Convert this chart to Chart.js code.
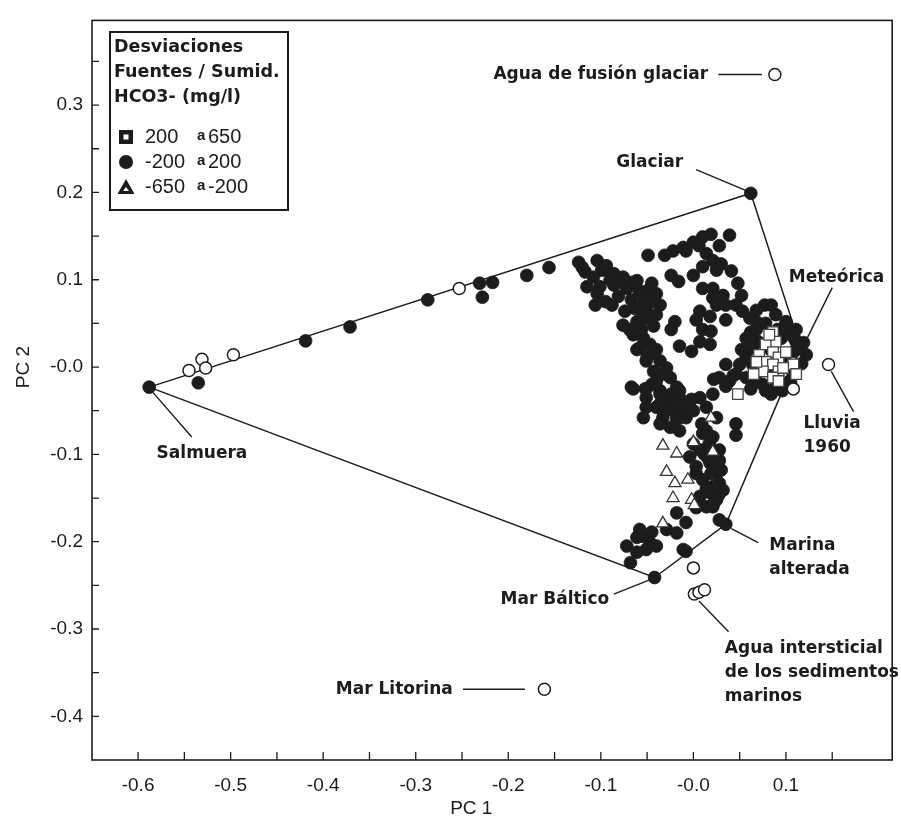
<!DOCTYPE html>
<html>
<head>
<meta charset="utf-8">
<script src="https://cdn.jsdelivr.net/npm/chart.js@4.4.1/dist/chart.umd.min.js"></script>
<style>
  html, body { margin: 0; padding: 0; background: #fff; }
  #wrap { width: 901px; height: 820px; position: relative; }
</style>
</head>
<body>
<div id="wrap"><canvas id="pca"></canvas></div>
<script>
// End members (filled, joined by the mixing polygon)
const endMemberNames = ['Salmuera', 'Glaciar', 'Meteórica', 'Marina alterada', 'Mar Báltico'];
const endMemberPC1 = [-0.588, 0.062, 0.116, 0.035, -0.042];
const endMemberPC2 = [-0.023, 0.199, 0.022, -0.180, -0.241];
const polygonOrder = [0, 1, 2, 3, 4, 0];

// Reference waters (open circles)
const refWaterNames = ['Agua de fusión glaciar', 'Lluvia 1960', 'Mar Litorina'];
const refWaterPC1 = [0.088, 0.146, -0.161];
const refWaterPC2 = [0.335, 0.003, -0.369];
const porewaterPC1 = [0.000, 0.001, 0.006, 0.012];
const porewaterPC2 = [-0.230, -0.260, -0.258, -0.255];

// Samples -200 a 200 lying on the Salmuera - Glaciar line
const alignedPC1 = [-0.535, -0.419, -0.371, -0.287, -0.231, -0.217, -0.228, -0.180, -0.156];
const alignedPC2 = [-0.018, 0.030, 0.046, 0.077, 0.096, 0.097, 0.080, 0.105, 0.114];

// Open samples along that line and next to Meteórica
const openLinePC1 = [-0.545, -0.531, -0.527, -0.497, -0.253, 0.108];
const openLinePC2 = [-0.004, 0.009, -0.001, 0.014, 0.090, -0.025];

// Main cloud, -200 a 200 (PC1, PC2)
const upperBand = [
  [-0.124,0.120],[-0.104,0.122],[-0.094,0.116],[-0.117,0.109],[-0.108,0.103],[-0.086,0.107],[-0.076,0.103],
  [-0.115,0.092],[-0.101,0.092],[-0.086,0.094],[-0.072,0.090],[-0.059,0.088],[-0.049,0.088],[-0.040,0.084],
  [-0.106,0.071],[-0.095,0.075],[-0.081,0.081],[-0.067,0.077],[-0.054,0.077],[-0.043,0.075],[-0.074,0.064],
  [-0.063,0.067],[-0.051,0.065],[-0.036,0.071],[-0.076,0.048],[-0.061,0.052],[-0.051,0.056],[-0.043,0.047],
  [-0.065,0.037],[-0.054,0.033],[-0.047,0.026],[-0.058,0.022],[-0.043,0.016],[-0.051,0.007],[-0.036,0.007],
  [-0.043,-0.005],[-0.029,-0.001],[-0.040,-0.016],[-0.025,-0.012],[-0.036,-0.027],[-0.018,-0.023],[-0.051,-0.035],
  [-0.029,-0.039],[-0.015,-0.035],[-0.040,-0.046],[-0.022,-0.050],[-0.011,-0.046],[-0.054,-0.058],[-0.033,-0.058],
  [-0.008,-0.058],[-0.067,-0.023],[-0.052,-0.025],[-0.090,0.100],[-0.066,0.097],[-0.047,0.058],
  [-0.120,0.114],[-0.099,0.111],[-0.083,0.096],[-0.061,0.099],[-0.045,0.096],[-0.104,0.084],[-0.088,0.071],
  [-0.056,0.065],[-0.040,0.060],[-0.069,0.043],[-0.056,0.043],[-0.061,0.020],[-0.050,0.012],[-0.040,0.020],
  [-0.034,-0.008],[-0.045,-0.020],[-0.024,-0.031],[-0.034,-0.048],[-0.018,-0.059],[-0.002,-0.037]
];
const upperArm = [
  [-0.049,0.128],[-0.031,0.128],[-0.022,0.133],[-0.011,0.137],[0.000,0.143],[0.010,0.149],[0.019,0.152],
  [0.039,0.151],[0.028,0.139],[0.014,0.130],[0.021,0.122],[0.010,0.115],[0.025,0.111],[0.000,0.105],
  [-0.024,0.105],[-0.016,0.098],[0.010,0.090],[0.021,0.090],[0.021,0.079],[0.032,0.082],[0.048,0.096],
  [0.035,0.071],[0.046,0.071],[0.053,0.064],[0.061,0.056],[0.068,0.052],[0.077,0.071],[0.089,0.060],
  [0.100,0.052],[0.104,0.041],[-0.008,0.133],[0.006,0.139],[0.030,0.118],[0.041,0.110],[0.052,0.082],
  [0.068,0.065],[0.084,0.071],[0.025,0.071],[0.035,0.054]
];
const centralColumn = [
  [0.007,0.064],[0.003,0.054],[0.018,0.058],[0.010,0.043],[0.019,0.041],[0.007,0.029],[0.018,0.026],
  [-0.020,0.052],[-0.024,0.043],[-0.015,0.024],[-0.002,0.018]
];
const meteoricCluster = [
  [0.057,0.033],[0.064,0.022],[0.057,0.011],[0.050,0.003],[0.064,0.003],[0.071,-0.005],[0.057,-0.012],
  [0.028,-0.012],[0.043,-0.010],[0.035,-0.022],[0.075,-0.020],[0.089,-0.023],[0.100,-0.020],[0.107,-0.005],
  [0.109,0.033],[0.109,0.018],[0.096,-0.027],[0.078,-0.027],[0.122,0.014],[0.111,0.029],[0.104,-0.016],
  [0.022,-0.014],[0.039,-0.016],[0.082,0.021],[0.070,0.029],[0.095,0.033],[0.085,-0.005],[0.100,0.005],
  [0.068,-0.017],[0.117,0.004],[0.062,0.040],[0.091,0.043],[0.068,0.043],[0.078,0.050],[0.111,0.043],
  [0.119,0.028],[0.052,0.020],[0.062,-0.025],[0.084,-0.031],[0.105,-0.018],[0.046,-0.008],[0.035,0.003]
];
const lowerColumn = [
  [-0.065,-0.025],[-0.051,-0.025],[-0.036,-0.031],[-0.015,-0.027],[0.007,-0.035],[0.021,-0.031],[-0.051,-0.046],
  [-0.036,-0.042],[-0.022,-0.042],[-0.015,-0.058],[0.000,-0.050],[0.014,-0.046],[0.025,-0.058],[-0.036,-0.065],
  [-0.025,-0.069],[-0.015,-0.073],[0.010,-0.076],[0.021,-0.080],[0.028,-0.095],[0.007,-0.095],[0.018,-0.110],
  [0.003,-0.114],[0.025,-0.122],[0.010,-0.129],[0.028,-0.133],[0.018,-0.144],[0.007,-0.148],[0.025,-0.152],
  [0.021,-0.160],[-0.018,-0.167],[-0.029,-0.186],[-0.054,-0.194],[-0.047,-0.201],[-0.040,-0.205],[-0.072,-0.205],
  [-0.068,-0.224],[-0.008,-0.211],[0.028,-0.175],[0.014,-0.073],[0.000,-0.088],[-0.004,-0.103],[0.021,-0.137],
  [0.014,-0.160],[-0.058,-0.186],[-0.051,-0.209],[0.046,-0.065],[0.046,-0.078],[0.017,-0.088],[0.028,-0.107],
  [0.032,-0.141],[0.022,-0.156],[-0.011,-0.209],[0.012,-0.100],[0.030,-0.118],
  [0.009,-0.065],[0.016,-0.105],[0.003,-0.122],[0.019,-0.122],[0.014,-0.139],[0.027,-0.147],[0.003,-0.161],
  [-0.008,-0.178],[-0.018,-0.190],[-0.061,-0.195],[-0.045,-0.189],[-0.061,-0.212]
];

// 200 a 650 (squares)
const squareSamples = [
  [0.086,0.040],[0.089,0.029],[0.078,0.026],[0.071,0.014],[0.086,0.017],[0.092,0.011],[0.078,0.006],
  [0.086,0.003],[0.092,-0.005],[0.075,-0.005],[0.086,-0.012],[0.092,-0.016],[0.065,-0.008],[0.048,-0.031],
  [0.100,0.017],[0.108,0.003],[0.082,0.037],[0.097,-0.001],[0.111,-0.008],[0.068,0.006]
];
// -650 a -200 (triangles)
const triangleSamples = [
  [-0.033,-0.090],[-0.018,-0.099],[-0.029,-0.120],[-0.020,-0.133],[-0.022,-0.150],[-0.002,-0.152],
  [0.001,-0.158],[-0.006,-0.129],[0.021,-0.097],[-0.033,-0.179],[0.000,-0.086],[0.019,-0.058]
];

// Axis ticks
const xTickValues = [-0.6,-0.55,-0.5,-0.45,-0.4,-0.35,-0.3,-0.25,-0.2,-0.15,-0.1,-0.05,0,0.05,0.1,0.15];
const yTickValues = [-0.4,-0.35,-0.3,-0.25,-0.2,-0.15,-0.1,-0.05,0,0.05,0.1,0.15,0.2,0.25,0.3,0.35];
const xLabelled = [-0.6,-0.5,-0.4,-0.3,-0.2,-0.1,0,0.1];
const yLabelled = [-0.4,-0.3,-0.2,-0.1,0,0.1,0.2,0.3];

// Legend texts
const legendTitle = ['Desviaciones', 'Fuentes / Sumid.', 'HCO3- (mg/l)'];
const legendFrom = ['200', '-200', '-650'];
const legendTo = ['650', '200', '-200'];

// Callout labels: text anchor and leader line, in data units
const callouts = [
  { lines: ['Agua de fusión glaciar'], at: [0.016, 0.335], align: 'right', leader: [[0.027, 0.335], [0.074, 0.335]] },
  { lines: ['Glaciar'], at: [-0.011, 0.234], align: 'right', leader: [[0.003, 0.226], [0.057, 0.202]] },
  { lines: ['Meteórica'], at: [0.103, 0.103], align: 'left', leader: [[0.150, 0.091], [0.114, 0.014]] },
  { lines: ['Lluvia', '1960'], at: [0.119, -0.065], align: 'left', leader: [[0.149, -0.005], [0.173, -0.051]] },
  { lines: ['Marina', 'alterada'], at: [0.082, -0.204], align: 'left', leader: [[0.041, -0.185], [0.070, -0.201]] },
  { lines: ['Agua intersticial', 'de los sedimentos', 'marinos'], at: [0.034, -0.322], align: 'left', leader: [[0.006, -0.268], [0.038, -0.303]] },
  { lines: ['Mar Báltico'], at: [-0.091, -0.266], align: 'right', leader: [[-0.086, -0.260], [-0.048, -0.244]] },
  { lines: ['Mar Litorina'], at: [-0.260, -0.369], align: 'right', leader: [[-0.249, -0.369], [-0.182, -0.369]] },
  { lines: ['Salmuera'], at: [-0.580, -0.099], align: 'left', leader: [[-0.584, -0.029], [-0.542, -0.080]] }
];

const ink = '#1c1c1c';
const toPoints = (xs, ys) => xs.map((x, i) => ({ x: x, y: ys[i] }));
const pairs = arr => arr.map(p => ({ x: p[0], y: p[1] }));

const filledData = toPoints(endMemberPC1, endMemberPC2)
  .concat(toPoints(alignedPC1, alignedPC2))
  .concat(pairs(upperBand), pairs(upperArm), pairs(centralColumn), pairs(meteoricCluster), pairs(lowerColumn));
const openData = toPoints(refWaterPC1, refWaterPC2)
  .concat(toPoints(porewaterPC1, porewaterPC2), toPoints(openLinePC1, openLinePC2));
const polygonData = polygonOrder.map(i => ({ x: endMemberPC1[i], y: endMemberPC2[i] }));

function near(v, list) {
  return list.some(l => Math.abs(l - v) < 1e-6);
}
function fmt(v) {
  return Math.abs(v) < 1e-6 ? '-0.0' : v.toFixed(1);
}

const overlay = {
  id: 'overlay',
  afterDraw(chart) {
    const ctx = chart.ctx;
    const area = chart.chartArea;
    const xs = chart.scales.x, ys = chart.scales.y;
    ctx.save();

    // frame and inward ticks
    ctx.strokeStyle = ink;
    ctx.lineWidth = 1.6;
    ctx.strokeRect(area.left, area.top, area.right - area.left, area.bottom - area.top);
    ctx.lineWidth = 1.3;
    ctx.beginPath();
    xs.ticks.forEach(t => {
      const px = xs.getPixelForValue(t.value);
      ctx.moveTo(px, area.bottom);
      ctx.lineTo(px, area.bottom - 8);
    });
    ys.ticks.forEach(t => {
      const py = ys.getPixelForValue(t.value);
      ctx.moveTo(area.left, py);
      ctx.lineTo(area.left + 7, py);
    });
    ctx.stroke();

    // axis titles
    ctx.fillStyle = ink;
    ctx.font = '19px "Liberation Sans"';
    ctx.textAlign = 'center';
    ctx.textBaseline = 'middle';
    ctx.fillText('PC 1', xs.getPixelForValue(-0.24), 809);
    ctx.save();
    ctx.translate(24, ys.getPixelForValue(0));
    ctx.rotate(-Math.PI / 2);
    ctx.fillText('PC 2', 0, 0);
    ctx.restore();

    // callouts
    ctx.font = 'bold 17px "DejaVu Sans"';
    ctx.lineWidth = 1.4;
    callouts.forEach(c => {
      const tx = xs.getPixelForValue(c.at[0]);
      const ty = ys.getPixelForValue(c.at[1]);
      ctx.textAlign = c.align;
      c.lines.forEach((line, i) => ctx.fillText(line, tx, ty + i * 24));
      ctx.beginPath();
      ctx.moveTo(xs.getPixelForValue(c.leader[0][0]), ys.getPixelForValue(c.leader[0][1]));
      ctx.lineTo(xs.getPixelForValue(c.leader[1][0]), ys.getPixelForValue(c.leader[1][1]));
      ctx.stroke();
    });

    // legend box
    const lx = area.left + 18, ly = 32;
    ctx.lineWidth = 2;
    ctx.fillStyle = '#fff';
    ctx.fillRect(lx, ly, 178, 178);
    ctx.strokeRect(lx, ly, 178, 178);
    ctx.fillStyle = ink;
    ctx.textAlign = 'left';
    ctx.font = 'bold 17.5px "DejaVu Sans"';
    legendTitle.forEach((t, i) => ctx.fillText(t, lx + 4, ly + 15 + i * 25));
    legendFrom.forEach((from, i) => {
      const cy = ly + 105 + i * 25;
      const sx = lx + 16;
      ctx.fillStyle = ink;
      if (i === 0) {
        ctx.fillRect(sx - 7, cy - 7, 14, 14);
        ctx.fillStyle = '#fff';
        ctx.fillRect(sx - 2.5, cy - 2.5, 5, 5);
      } else if (i === 1) {
        ctx.beginPath();
        ctx.arc(sx, cy, 7, 0, Math.PI * 2);
        ctx.fill();
      } else {
        ctx.beginPath();
        ctx.moveTo(sx, cy - 8);
        ctx.lineTo(sx + 8.5, cy + 7);
        ctx.lineTo(sx - 8.5, cy + 7);
        ctx.closePath();
        ctx.fill();
        ctx.fillStyle = '#fff';
        ctx.beginPath();
        ctx.moveTo(sx, cy);
        ctx.lineTo(sx + 3, cy + 4);
        ctx.lineTo(sx - 3, cy + 4);
        ctx.closePath();
        ctx.fill();
      }
      ctx.fillStyle = ink;
      ctx.font = '20px "Liberation Sans"';
      ctx.fillText(from, lx + 35, cy);
      ctx.fillText(legendTo[i], lx + 98, cy);
      ctx.font = 'bold 15px "Liberation Sans"';
      ctx.fillText('a', lx + 87, cy - 1);
    });

    ctx.restore();
  }
};

new Chart(document.getElementById('pca').getContext('2d'), {
  type: 'scatter',
  data: {
    datasets: [
      {
        label: 'Polígono de mezcla',
        data: polygonData,
        showLine: true,
        borderColor: ink,
        borderWidth: 1.5,
        pointRadius: 0,
        tension: 0,
        order: 5
      },
      {
        label: '-200 a 200',
        data: filledData,
        pointStyle: 'circle',
        pointRadius: 6.4,
        backgroundColor: ink,
        borderColor: ink,
        borderWidth: 0.8,
        order: 4
      },
      {
        label: 'Aguas de referencia',
        data: openData,
        pointStyle: 'circle',
        pointRadius: 6,
        backgroundColor: '#fff',
        borderColor: ink,
        borderWidth: 1.5,
        order: 3
      },
      {
        label: '-650 a -200',
        data: pairs(triangleSamples),
        pointStyle: 'triangle',
        pointRadius: 7,
        backgroundColor: '#fff',
        borderColor: '#333',
        borderWidth: 1.3,
        order: 2
      },
      {
        label: '200 a 650',
        data: pairs(squareSamples),
        pointStyle: 'rect',
        pointRadius: 7.5,
        backgroundColor: '#fff',
        borderColor: '#444',
        borderWidth: 1.3,
        order: 1
      }
    ]
  },
  options: {
    responsive: true,
    maintainAspectRatio: false,
    animation: false,
    devicePixelRatio: 1,
    layout: { padding: { top: 12, right: 4, left: 0, bottom: 0 } },
    plugins: {
      legend: { display: false },
      tooltip: { enabled: false }
    },
    scales: {
      x: {
        type: 'linear',
        min: -0.6498,
        max: 0.2148,
        grid: { display: false, drawTicks: false },
        border: { display: false },
        afterBuildTicks: axis => { axis.ticks = xTickValues.map(v => ({ value: v })); },
        afterFit: scale => { scale.height = 60; },
        ticks: {
          autoSkip: false,
          maxRotation: 0,
          padding: 14,
          color: ink,
          font: { family: 'Liberation Sans', size: 19 },
          callback: v => near(v, xLabelled) ? fmt(v) : ''
        }
      },
      y: {
        type: 'linear',
        min: -0.45,
        max: 0.397,
        grid: { display: false, drawTicks: false },
        border: { display: false },
        afterBuildTicks: axis => { axis.ticks = yTickValues.map(v => ({ value: v })); },
        afterFit: scale => { scale.width = 92; },
        ticks: {
          autoSkip: false,
          padding: 9,
          color: ink,
          font: { family: 'Liberation Sans', size: 19 },
          callback: v => near(v, yLabelled) ? fmt(v) : ''
        }
      }
    }
  },
  plugins: [overlay]
});
</script>
</body>
</html>
